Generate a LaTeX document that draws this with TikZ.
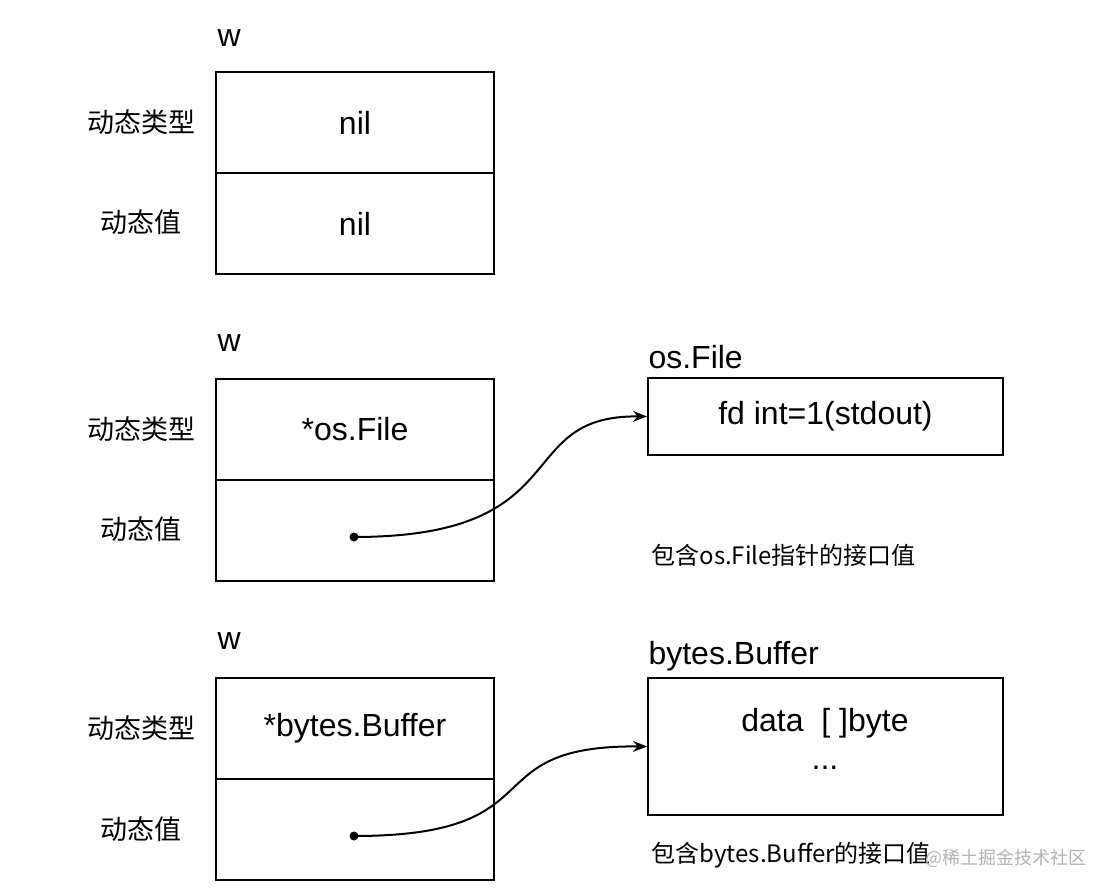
\documentclass[tikz,border=0pt]{standalone}
\usepackage{fontspec}
\setmainfont{Liberation Sans}
\newfontfamily\cjk{Noto Sans CJK SC}
\usetikzlibrary{arrows.meta}

\begin{document}
\begin{tikzpicture}[x=1pt, y=-1pt,
        cell/.style={draw, line width=2pt, minimum width=278pt, minimum height=101pt, inner sep=0pt, font=\fontsize{32}{32}\selectfont},
        side/.style={font=\cjk\fontsize{27}{27}\selectfont},
        title/.style={anchor=west, font=\fontsize{32}{32}\selectfont},
        note/.style={anchor=west, font=\cjk\fontsize{24}{24}\selectfont},
        link/.style={line width=2pt, -{Stealth[length=14pt, width=11pt]}},
        dot/.style={circle, fill, inner sep=0pt, minimum size=9pt}]
    \useasboundingbox (0,0) rectangle (1109,894);

    % first interface value
    \node[title] (w1) at (214,38) {w};
    \node[cell] (t1) at (355,122.5) {nil};
    \node[cell] (v1) at (355,223.5) {nil};
    \node[side] at (141,122) {动态类型};
    \node[side] at (141,222) {动态值};

    % second interface value
    \node[title] (w2) at (214,343) {w};
    \node[cell] (t2) at (355,429) {*os.File};
    \node[cell] (v2) at (355,530) {};
    \node[side] at (141,429) {动态类型};
    \node[side] at (141,529) {动态值};
    \node[dot] (p2) at (354,537) {};
    \node[title] (f) at (645,357) {os.File};
    \node[cell, minimum width=355pt, minimum height=77pt] (file) at (825.5,416.5) {fd int=1(stdout)};
    \node[note] at (648,555) {包含os.File指针的接口值};
    \draw[link] (p2.center) .. controls (580,537) and (510,415) .. (file.west);

    % third interface value
    \node[title] (w3) at (214,641) {w};
    \node[cell] (t3) at (355,728) {*bytes.Buffer};
    \node[cell] (v3) at (355,829) {};
    \node[side] at (141,728) {动态类型};
    \node[side] at (141,829) {动态值};
    \node[dot] (p3) at (354,836) {};
    \node[title] (b) at (645,656) {bytes.Buffer};
    \node[draw, line width=2pt, minimum width=355pt, minimum height=137pt] (buf) at (825.5,746.5) {};
    \node[font=\fontsize{32}{32}\selectfont] at (825,723) {data~~[ ]byte};
    \node[font=\fontsize{32}{32}\selectfont] at (825,768) {...};
    \node[note] at (648,855) {包含bytes.Buffer的接口值};
    \draw[link] (p3.center) .. controls (560,836) and (470,745) .. (buf.west);

    \node[anchor=east, text=black!30, font=\cjk\fontsize{18}{18}\selectfont] at (1090,858) {@稀土掘金技术社区};
\end{tikzpicture}
\end{document}
